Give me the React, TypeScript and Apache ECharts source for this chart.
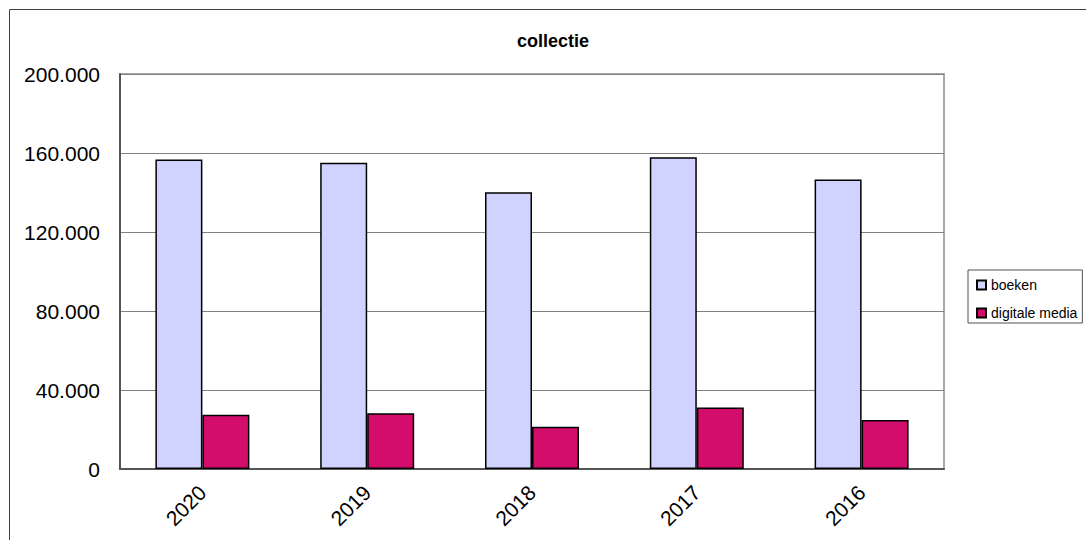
import React, { useEffect, useRef } from "react";
import * as echarts from "echarts";

const categories = ["2020", "2019", "2018", "2017", "2016"];
const boeken = [156700, 155100, 140100, 157800, 146600];
const digitaleMedia = [27500, 28200, 21400, 31200, 24800];
const yTicks = { min: 0, max: 200000, interval: 40000 };

const FONT = "'Liberation Sans', Arial, sans-serif";

function fmt(v: number): string {
  return String(Math.round(v)).replace(/\B(?=(\d{3})+(?!\d))/g, ".");
}

export default function App() {
  const ref = useRef<HTMLDivElement>(null);
  useEffect(() => {
    if (!ref.current) return;
    const chart = echarts.init(ref.current, null, { renderer: "svg" });
    chart.setOption({
      animation: false,
      backgroundColor: "#ffffff",
      textStyle: { fontFamily: FONT },
      title: {
        text: "collectie",
        left: 512,
        top: 27,
        textStyle: { fontFamily: FONT, fontSize: 18, fontWeight: "bold", color: "#000" },
      },
      graphic: [
        {
          type: "rect",
          shape: { x: 9.5, y: 9.5, width: 1200, height: 700 },
          style: { fill: "none", stroke: "#404040", lineWidth: 1 },
          silent: true,
          z: -1,
        },
      ],
      legend: {
        orient: "vertical",
        left: 968,
        top: 270,
        padding: [8, 5, 3, 8],
        itemGap: 14,
        itemWidth: 9,
        itemHeight: 9,
        icon: "rect",
        borderColor: "#505050",
        borderWidth: 1,
        textStyle: { fontFamily: FONT, fontSize: 14, color: "#000" },
        data: ["boeken", "digitale media"],
      },
      grid: {
        left: 120,
        top: 74,
        right: 142,
        bottom: 71,
        show: true,
        borderColor: "#a8a8a8",
        borderWidth: 2,
        containLabel: false,
      },
      xAxis: {
        type: "category",
        data: categories,
        axisLine: { show: true, lineStyle: { color: "#555", width: 2 } },
        axisTick: { show: false },
        axisLabel: {
          rotate: 45,
          margin: 20,
          fontSize: 21,
          fontFamily: FONT,
          color: "#000",
        },
      },
      yAxis: {
        type: "value",
        min: yTicks.min,
        max: yTicks.max,
        interval: yTicks.interval,
        axisLine: { show: true, lineStyle: { color: "#555", width: 2 } },
        axisTick: { show: false },
        splitLine: { show: true, lineStyle: { color: "#808080", width: 1 } },
        axisLabel: {
          margin: 20,
          fontSize: 21,
          fontFamily: FONT,
          color: "#000",
          formatter: (v: number) => fmt(v),
        },
      },
      series: [
        {
          name: "boeken",
          type: "bar",
          data: boeken,
          barWidth: 47,
          barGap: "0%",
          itemStyle: { color: "#D0D2FF", borderColor: "#000", borderWidth: 1.5 },
        },
        {
          name: "digitale media",
          type: "bar",
          data: digitaleMedia,
          barWidth: 47,
          barGap: "0%",
          itemStyle: { color: "#D30D6B", borderColor: "#000", borderWidth: 1.5 },
        },
      ],
    });
    return () => chart.dispose();
  }, []);
  return (
    <div
      ref={ref}
      style={{ position: "absolute", left: 0, top: 0, width: 1086, height: 540 }}
    />
  );
}
